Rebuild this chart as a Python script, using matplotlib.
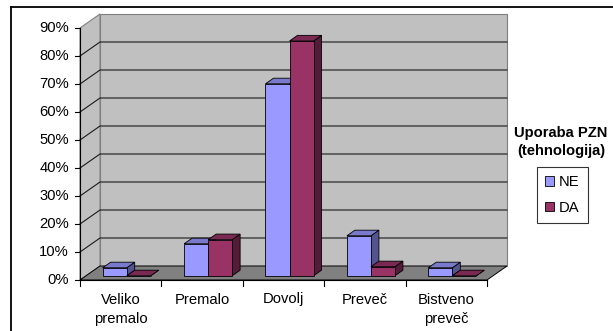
import matplotlib
matplotlib.use("Agg")
import matplotlib.pyplot as plt
from matplotlib.patches import Polygon, Rectangle
from matplotlib.lines import Line2D
import numpy as np

plt.rcParams["font.family"] = ["Liberation Sans", "DejaVu Sans"]

# ---- data -------------------------------------------------------------
categories = ["Veliko\npremalo", "Premalo", "Dovolj", "Preveč", "Bistveno\npreveč"]
series_names = ["NE", "DA"]
ne_values = [2.86, 11.43, 68.57, 14.29, 2.86]   # %
da_values = [0.0, 12.90, 83.87, 3.23, 0.0]      # %
y_ticks = [0, 10, 20, 30, 40, 50, 60, 70, 80, 90]
y_tick_labels = [f"{v}%" for v in y_ticks]
legend_title = "Uporaba PZN\n(tehnologija)"

# ---- style ------------------------------------------------------------
face_colors = ["#9999FF", "#993366"]
wall_color = "#C0C0C0"
floor_color = "#808080"
FS = 10.6

W, H, DPI = 613, 331, 100
fig = plt.figure(figsize=(W / DPI, H / DPI), dpi=DPI)
ax = fig.add_axes([0, 0, 1, 1])
ax.set_axis_off()

# axes scale: front plane origin and unit sizes in pixels
x0_px, cat_px = 80.0, 81.4
y0_px, pct_px = 280.0, 2.8
ax.set_xlim((0 - x0_px) / cat_px, (W - x0_px) / cat_px)
ax.set_ylim((y0_px - H) / pct_px, y0_px / pct_px)

# oblique depth offset (full depth) in data units
DX = 20.0 / cat_px
DY = 14.0 / pct_px
n = len(categories)
ymax = y_ticks[-1]


def proj(x, y, d):
    return (x + d * DX, y + d * DY)


def shade(hex_color, f):
    c = np.array(matplotlib.colors.to_rgb(hex_color))
    return tuple(c * f)


# walls and floor
ax.add_patch(Polygon([proj(0, 0, 1), proj(n, 0, 1), proj(n, ymax, 1), proj(0, ymax, 1)],
                     closed=True, facecolor=wall_color, edgecolor="#808080", lw=0.8, zorder=1))
ax.add_patch(Polygon([proj(0, 0, 0), proj(0, 0, 1), proj(0, ymax, 1), proj(0, ymax, 0)],
                     closed=True, facecolor=wall_color, edgecolor="#808080", lw=0.8, zorder=1))
ax.add_patch(Polygon([proj(0, 0, 0), proj(n, 0, 0), proj(n, 0, 1), proj(0, 0, 1)],
                     closed=True, facecolor=floor_color, edgecolor="black", lw=0.7, zorder=2))

# gridlines across side wall and back wall
for v in y_ticks[1:-1]:
    pts = [proj(0, v, 0), proj(0, v, 1), proj(n, v, 1)]
    ax.plot([p[0] for p in pts], [p[1] for p in pts], color="#1a1a1a", lw=0.8, zorder=2)

# axes lines and ticks
ax.plot([0, 0], [0, ymax], color="black", lw=0.8, zorder=3)
ax.plot([0, n], [0, 0], color="black", lw=0.8, zorder=3)
tick_dx = 5.0 / cat_px
tick_dy = 6.0 / pct_px
for v, lab in zip(y_ticks, y_tick_labels):
    ax.plot([-tick_dx, 0], [v, v], color="black", lw=0.8, zorder=3)
    ax.text(-11.0 / cat_px, v, lab, ha="right", va="center", fontsize=FS)
for i in range(n + 1):
    ax.plot([i, i], [0, -tick_dy], color="black", lw=0.8, zorder=3)
for i, cat in enumerate(categories):
    ax.text(i + 0.5, -12.5 / pct_px, cat, ha="center", va="top", fontsize=FS,
            linespacing=1.52)

# 3D bars
bar_w = 0.295
d0, d1 = 0.3, 0.7
series = [ne_values, da_values]
for i in range(n):
    for j, vals in enumerate(series):
        h = vals[i]
        xl = i + 0.5 - bar_w + j * bar_w
        xr = xl + bar_w
        col = face_colors[j]
        z = 4 + i * 2 + j
        kw = dict(closed=True, edgecolor="black", lw=0.6, zorder=z)
        ax.add_patch(Polygon([proj(xr, 0, d0), proj(xr, 0, d1), proj(xr, h, d1), proj(xr, h, d0)],
                             facecolor=shade(col, 0.55), **kw))
        ax.add_patch(Polygon([proj(xl, h, d0), proj(xr, h, d0), proj(xr, h, d1), proj(xl, h, d1)],
                             facecolor=shade(col, 0.8), **kw))
        ax.add_patch(Polygon([proj(xl, 0, d0), proj(xr, 0, d0), proj(xr, h, d0), proj(xl, h, d0)],
                             facecolor=col, **kw))

# legend
ax.text((561 - x0_px) / cat_px, (y0_px - 142) / pct_px, legend_title, ha="center",
        va="center", fontsize=FS, fontweight="bold", linespacing=1.36)
handles = [Rectangle((0, 0), 1, 1, facecolor=c, edgecolor="black", lw=0.6) for c in face_colors]
leg = ax.legend(handles, series_names, loc="upper left",
                bbox_to_anchor=(537 / W, 1 - 167 / H), bbox_transform=fig.transFigure,
                borderaxespad=0, fontsize=FS, handlelength=0.6, handleheight=0.6,
                handletextpad=0.35, labelspacing=0.8, borderpad=0.55, fancybox=False,
                frameon=True)
leg.get_frame().set_edgecolor("black")
leg.get_frame().set_linewidth(0.8)

# outer chart frame
fig.add_artist(Line2D([11 / W, 11 / W], [0, 1 - 7 / H], transform=fig.transFigure,
                      color="black", lw=1.3))
fig.add_artist(Line2D([11 / W, 1], [1 - 7 / H, 1 - 7 / H], transform=fig.transFigure,
                      color="black", lw=1.3))

fig.savefig("out.png", dpi=DPI)
